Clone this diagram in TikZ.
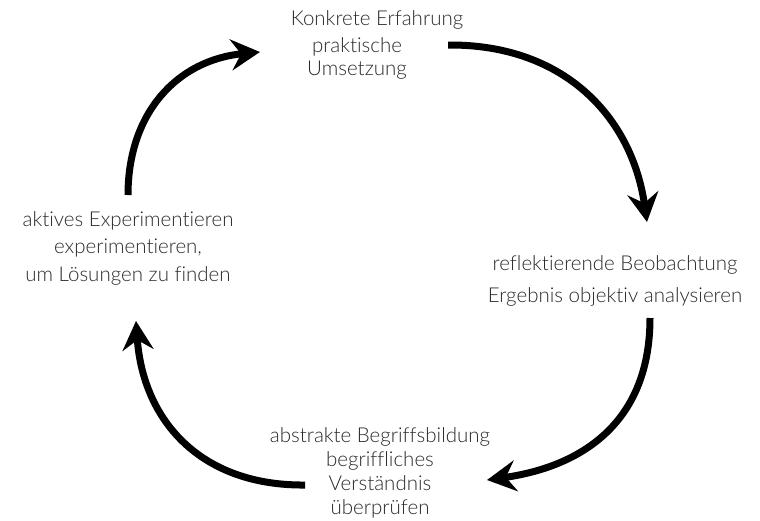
\documentclass[tikz,border=0pt]{standalone}
\usepackage{fontspec}
\setmainfont{Lato Light}[Ligatures={NoCommon}]
\usetikzlibrary{arrows.meta}
\definecolor{txt}{HTML}{2A2A2A}
\tikzset{
  lbl/.style={align=center, text=txt, font=\fontsize{20.5}{27}\selectfont, inner sep=0pt},
  cyc/.style={line width=7pt, draw=black, -{Stealth[length=29pt,width=31pt,inset=10pt]}}
}
\begin{document}
\begin{tikzpicture}[x=1pt,y=-1pt]
\useasboundingbox (0,0) rectangle (760,520);
% text blocks
\node[lbl] (kt) at (377,20) {Konkrete Erfahrung};
\node[lbl, font=\fontsize{20.5}{23}\selectfont] (kd) at (357,58) {praktische\\Umsetzung};
\node[lbl, font=\fontsize{20.5}{32}\selectfont] (rb) at (615,281) {reflektierende Beobachtung\\Ergebnis objektiv analysieren};
\node[lbl, font=\fontsize{20.5}{24}\selectfont] (ab) at (380,473) {abstrakte Begriffsbildung\\begriffliches\\Verständnis\\überprüfen};
\node[lbl, font=\fontsize{20.5}{27.5}\selectfont] (ae) at (128,248) {aktives Experimentieren\\experimentieren,\\um Lösungen zu finden};
% cycle connectors
\coordinate (s1) at (448,45);  \coordinate (e1) at (647,222);
\coordinate (s2) at (650,318); \coordinate (e2) at (487,480);
\coordinate (s3) at (305,485); \coordinate (e3) at (136,321);
\coordinate (s4) at (128,195); \coordinate (e4) at (260,52);
\draw[cyc] (s1) .. controls (565,44) and (632,118) .. (e1);
\draw[cyc] (s2) .. controls (650,420) and (585,466) .. (e2);
\draw[cyc] (s3) .. controls (200,486) and (143,420) .. (e3);
\draw[cyc] (s4) .. controls (128,112) and (178,60) .. (e4);
\end{tikzpicture}
\end{document}
